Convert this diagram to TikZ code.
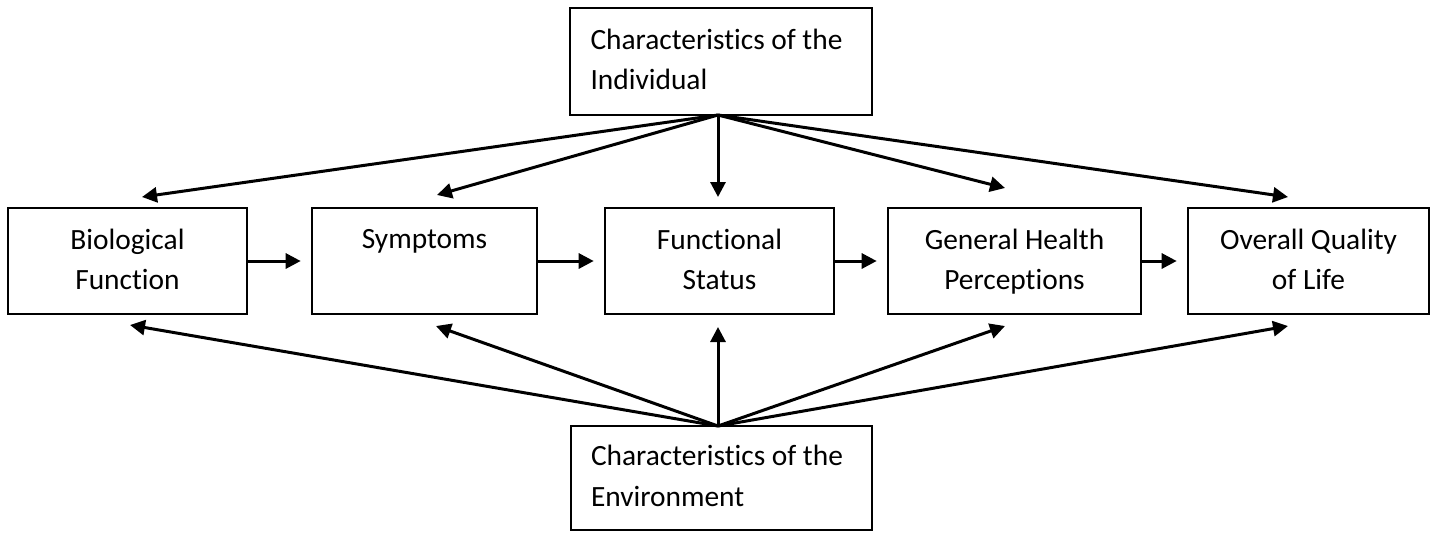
\documentclass[tikz,border=0pt]{standalone}
\usepackage{fontspec}
\setmainfont[Ligatures=NoCommon]{Carlito}
\usetikzlibrary{arrows.meta}
\begin{document}
\begin{tikzpicture}[x=0.5pt,y=-0.5pt,
  box/.style={draw,line width=1.3pt,inner sep=0pt,font=\fontsize{14.7}{20.2}\selectfont},
  midbox/.style={box,align=center,minimum height=53pt,text depth=2pt},
  sidebox/.style={box,align=left},
  arr/.style={line width=1.5pt,-{Triangle[length=7.5pt,width=7.5pt]}}]
\useasboundingbox (0,0) rectangle (1432,532);

\node[sidebox,minimum width=151pt,minimum height=53.5pt] (ind) at (721,61.5)
  {\hspace*{-4.5pt}\raisebox{-2pt}{\begin{tabular}{@{}l@{}}Characteristics of the\\Individual\end{tabular}}};
\node[sidebox,minimum width=150.5pt,minimum height=52pt] (env) at (721.5,478)
  {\hspace*{-4.5pt}\raisebox{-1.5pt}{\begin{tabular}{@{}l@{}}Characteristics of the\\Environment\end{tabular}}};

\node[midbox,minimum width=119.5pt] (bio) at (127.5,261) {Biological\\Function};
\node[midbox,minimum width=112.5pt] (sym) at (424.5,261) {Symptoms\\\mbox{}};
\node[midbox,minimum width=114.5pt] (fun) at (719.5,261) {Functional\\Status};
\node[midbox,minimum width=126.5pt] (ghp) at (1014.5,261) {General Health\\Perceptions};
\node[midbox,minimum width=120.5pt] (oql) at (1308.5,261) {Overall Quality\\of Life};

\coordinate (is) at (718,115);
\coordinate (es) at (718,426);

\coordinate (t1) at (142,197);
\coordinate (t2) at (437,195);
\coordinate (t3) at (718,197);
\coordinate (t4) at (1005,188);
\coordinate (t5) at (1288,197);

\coordinate (b1) at (130,325);
\coordinate (b2) at (436,326);
\coordinate (b3) at (718,327);
\coordinate (b4) at (1005,326);
\coordinate (b5) at (1288,326);

\foreach \i in {1,...,5} {
  \draw[arr] (is) -- (t\i);
  \draw[arr] (es) -- (b\i);
}

\draw[arr] (bio.east) -- ([xshift=-5pt]sym.west);
\draw[arr] (sym.east) -- ([xshift=-5pt]fun.west);
\draw[arr] (fun.east) -- ([xshift=-5pt]ghp.west);
\draw[arr] (ghp.east) -- ([xshift=-5pt]oql.west);
\end{tikzpicture}
\end{document}
